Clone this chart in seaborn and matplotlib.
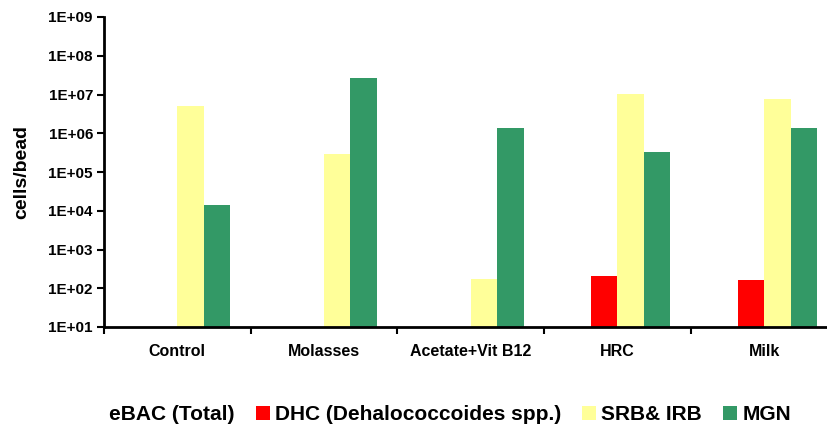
import numpy as np
import pandas as pd
import matplotlib
matplotlib.use("Agg")
import matplotlib.pyplot as plt
import matplotlib.ticker as mticker
from matplotlib.patches import Patch
import seaborn as sns

categories = ["Control", "Molasses", "Acetate+Vit B12", "HRC", "Milk"]
series = ["eBAC (Total)", "DHC (Dehalococcoides spp.)", "SRB& IRB", "MGN"]

# eBAC values are not visible in the chart (white bars)
ebac = [np.nan, np.nan, np.nan, np.nan, np.nan]
dhc = [np.nan, np.nan, np.nan, 2.1e2, 1.6e2]
srb = [5.2e6, 3.0e5, 1.7e2, 1.03e7, 7.6e6]
mgn = [1.4e4, 2.6e7, 1.37e6, 3.3e5, 1.37e6]

colors = ["#FFFFFF", "#FF0000", "#FFFF99", "#339966"]

rows = []
for name, vals in zip(series, [ebac, dhc, srb, mgn]):
    for cat, v in zip(categories, vals):
        rows.append({"group": cat, "series": name, "value": v})
df = pd.DataFrame(rows).dropna()

sns.set_style("white")
plt.rcParams["font.family"] = ["Liberation Sans", "DejaVu Sans"]
plt.rcParams["font.weight"] = "bold"
plt.rcParams["text.color"] = "black"
plt.rcParams["axes.labelcolor"] = "black"
plt.rcParams["xtick.color"] = "black"
plt.rcParams["ytick.color"] = "black"

fig = plt.figure(figsize=(8.28, 4.25), dpi=100)
ax = fig.add_axes([104 / 828, 1 - 327 / 425, 1 - 104 / 828, (327 - 17) / 425])
ax.set_yscale("log")

sns.barplot(data=df, x="group", y="value", hue="series", order=categories,
            hue_order=series, palette=colors, width=0.72, ax=ax,
            legend=False, saturation=1, linewidth=0)

ax.set_ylim(10, 1e9)
ax.set_xlim(-0.5, 4.435)
ax.yaxis.set_major_locator(mticker.LogLocator(base=10, numticks=20))
ax.yaxis.set_minor_locator(mticker.NullLocator())
ax.yaxis.set_major_formatter(mticker.FuncFormatter(
    lambda v, p: "1E+%02d" % int(round(np.log10(v)))))

ax.set_xticks(range(len(categories)))
ax.set_xticklabels(categories)
ax.set_xticks([-0.5, 0.5, 1.5, 2.5, 3.5], minor=True)
ax.tick_params(axis="x", which="major", length=0, pad=12, labelsize=11.5)
ax.tick_params(axis="x", which="minor", length=5, width=1.5, direction="out",
               color="black", bottom=True)
ax.tick_params(axis="y", which="major", length=5, width=1.5, direction="out",
               color="black", left=True, labelsize=11, pad=3)

for lab in ax.get_xticklabels() + ax.get_yticklabels():
    lab.set_fontweight("bold")

ax.set_xlabel("")
ax.set_ylabel("cells/bead", fontsize=14, fontweight="bold")
ax.yaxis.set_label_coords(-0.102, 0.5)

for s in ["top", "right"]:
    ax.spines[s].set_visible(False)
for s in ["left", "bottom"]:
    ax.spines[s].set_color("black")
    ax.spines[s].set_linewidth(2)
    ax.spines[s].set_zorder(5)

handles = [Patch(facecolor=c, edgecolor="none") for c in colors]
fig.legend(handles, series, loc="center", bbox_to_anchor=(0.532, 0.025),
           ncol=4, frameon=False, handlelength=0.68, handleheight=0.65,
           handletextpad=0.25, columnspacing=1.0, borderpad=0,
           prop={"size": 15, "weight": "bold"})

fig.savefig("out.png", dpi=100)
